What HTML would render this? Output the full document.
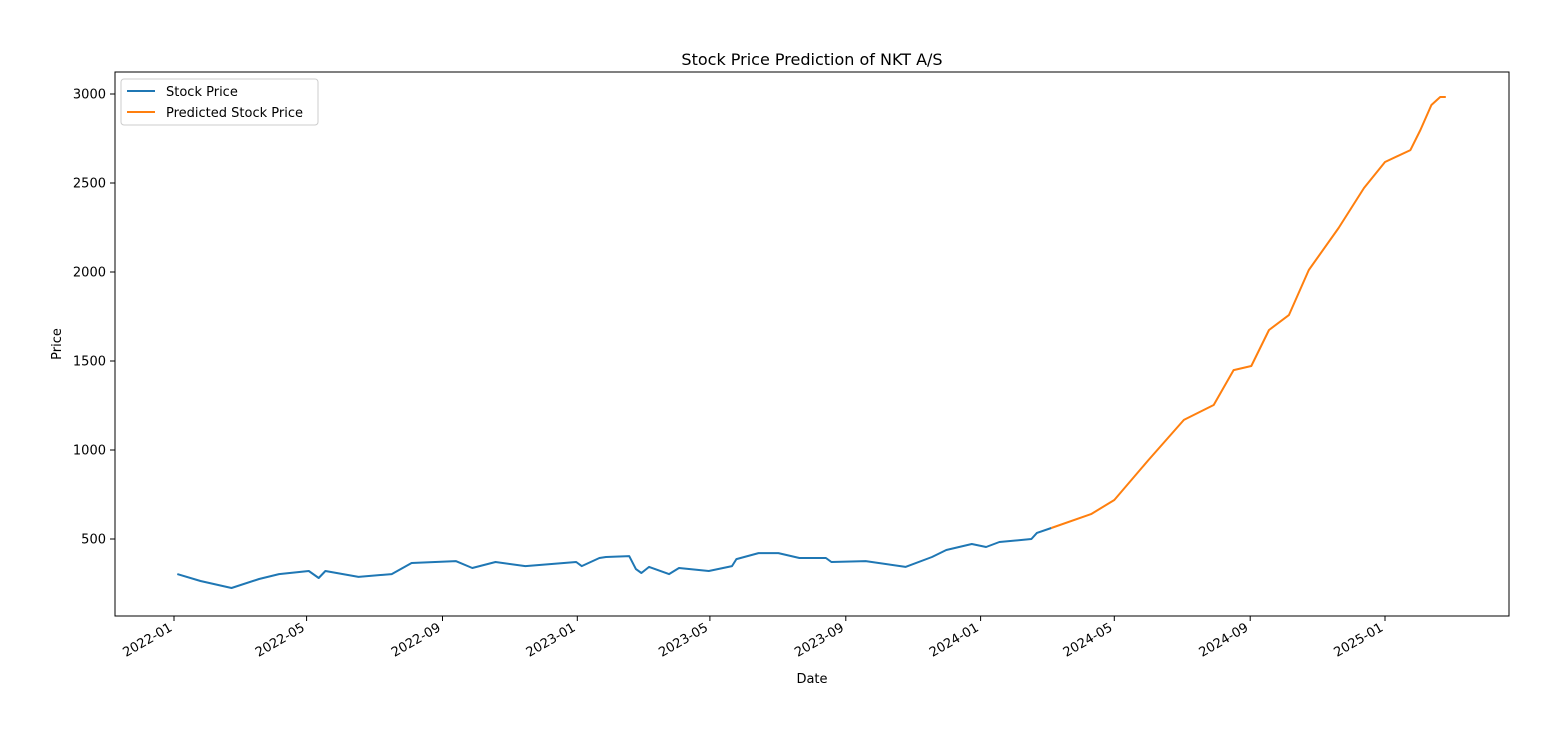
<!DOCTYPE html>
<html><head><meta charset="utf-8">
<style>
body{margin:0;background:#fff;}
svg{display:block;font-family:"DejaVu Sans","Liberation Sans",sans-serif;}
</style></head>
<body>
<svg id="chart" width="1559" height="736" viewBox="0 0 1559 736" xmlns="http://www.w3.org/2000/svg">
<rect width="1559" height="736" fill="#fff"/>
<text x="812" y="65" font-size="16" text-anchor="middle">Stock Price Prediction of NKT A/S</text>
<g id="plot"></g>
<rect x="115" y="72" width="1394" height="544" fill="none" stroke="#000" stroke-width="1"/>
<text x="812" y="683" font-size="13" text-anchor="middle">Date</text>
<text transform="translate(61,344) rotate(-90)" font-size="13" text-anchor="middle">Price</text>
<g>
<rect x="121" y="79" width="197" height="46" rx="3" fill="#fff" fill-opacity="0.8" stroke="#ccc"/>
<line x1="127" y1="91" x2="155" y2="91" stroke="#1f77b4" stroke-width="2"/>
<text x="166" y="96" font-size="13">Stock Price</text>
<line x1="127" y1="112" x2="155" y2="112" stroke="#ff7f0e" stroke-width="2"/>
<text x="166" y="117" font-size="13">Predicted Stock Price</text>
</g>
</svg>
<script>
const yTicks = [500, 1000, 1500, 2000, 2500, 3000];
const xTicks = ["2022-01","2022-05","2022-09","2023-01","2023-05","2023-09","2024-01","2024-05","2024-09","2025-01"];
const actualDates = ["2022-01-04","2022-01-25","2022-02-22","2022-03-19","2022-04-06","2022-05-03","2022-05-12","2022-05-18","2022-06-17","2022-07-17","2022-08-04","2022-09-13","2022-09-28","2022-10-19","2022-11-15","2022-12-31","2023-01-05","2023-01-21","2023-01-27","2023-02-17","2023-02-23","2023-02-28","2023-03-07","2023-03-25","2023-04-03","2023-04-30","2023-05-21","2023-05-25","2023-06-14","2023-07-02","2023-07-21","2023-08-14","2023-08-19","2023-09-19","2023-10-25","2023-11-18","2023-12-01","2023-12-24","2024-01-06","2024-01-18","2024-02-16","2024-02-21","2024-03-05"];
const actualPrices = [303,264,225,275,303,320,281,320,287,303,365,376,337,371,348,371,348,393,399,404,331,309,343,303,337,320,348,387,421,421,393,393,371,376,343,399,438,472,455,483,500,534,562];
const predDates = ["2024-03-05","2024-04-10","2024-05-01","2024-06-01","2024-07-03","2024-07-30","2024-08-17","2024-09-02","2024-09-18","2024-10-06","2024-10-24","2024-11-20","2024-12-13","2025-01-01","2025-01-24","2025-02-02","2025-02-12","2025-02-20","2025-02-25"];
const predPrices = [562,640,719,944,1169,1253,1449,1472,1674,1758,2011,2247,2472,2618,2685,2798,2938,2983,2983];

const NS = "http://www.w3.org/2000/svg";
const t0 = Date.UTC(2022,0,1);
function xScale(d){ const p=d.split("-").map(Number); const t=Date.UTC(p[0],p[1]-1,p[2]||1); return 174 + (t-t0)/86400000*(1211/1096); }
function yScale(v){ return 539 - (v-500)*0.178; }
const plot = document.getElementById("plot");
const svg = document.getElementById("chart");
yTicks.forEach(v=>{
  const y=yScale(v);
  const l=document.createElementNS(NS,"line");
  
  
  l.setAttribute("x1",110);l.setAttribute("x2",115);l.setAttribute("y1",y);l.setAttribute("y2",y);l.setAttribute("stroke","#000");
  svg.appendChild(l);
  const t=document.createElementNS(NS,"text");
  
  
  t.setAttribute("x",106);t.setAttribute("y",y+4.5);t.setAttribute("font-size","13");t.setAttribute("text-anchor","end");
  t.textContent=v; svg.appendChild(t);
});
xTicks.forEach(d=>{
  const x=xScale(d+"-01");
  const l=document.createElementNS(NS,"line");
  
  
  l.setAttribute("x1",x);l.setAttribute("x2",x);l.setAttribute("y1",616);l.setAttribute("y2",621);l.setAttribute("stroke","#000");
  svg.appendChild(l);
  const t=document.createElementNS(NS,"text");
  
  
  t.setAttribute("transform","translate("+(x-1)+",630) rotate(-30)");t.setAttribute("font-size","13");t.setAttribute("text-anchor","end");
  t.textContent=d; svg.appendChild(t);
});
function line(dates, vals, color, name){
  const p=document.createElementNS(NS,"polyline");
  
  
  p.setAttribute("points", dates.map((d,i)=>xScale(d).toFixed(1)+","+yScale(vals[i]).toFixed(1)).join(" "));
  p.setAttribute("fill","none");p.setAttribute("stroke",color);p.setAttribute("stroke-width","2");p.setAttribute("stroke-linejoin","round");
  plot.appendChild(p);
}
line(actualDates, actualPrices, "#1f77b4", "stock-price-line");
line(predDates, predPrices, "#ff7f0e", "predicted-price-line");
</script>
</body></html>
